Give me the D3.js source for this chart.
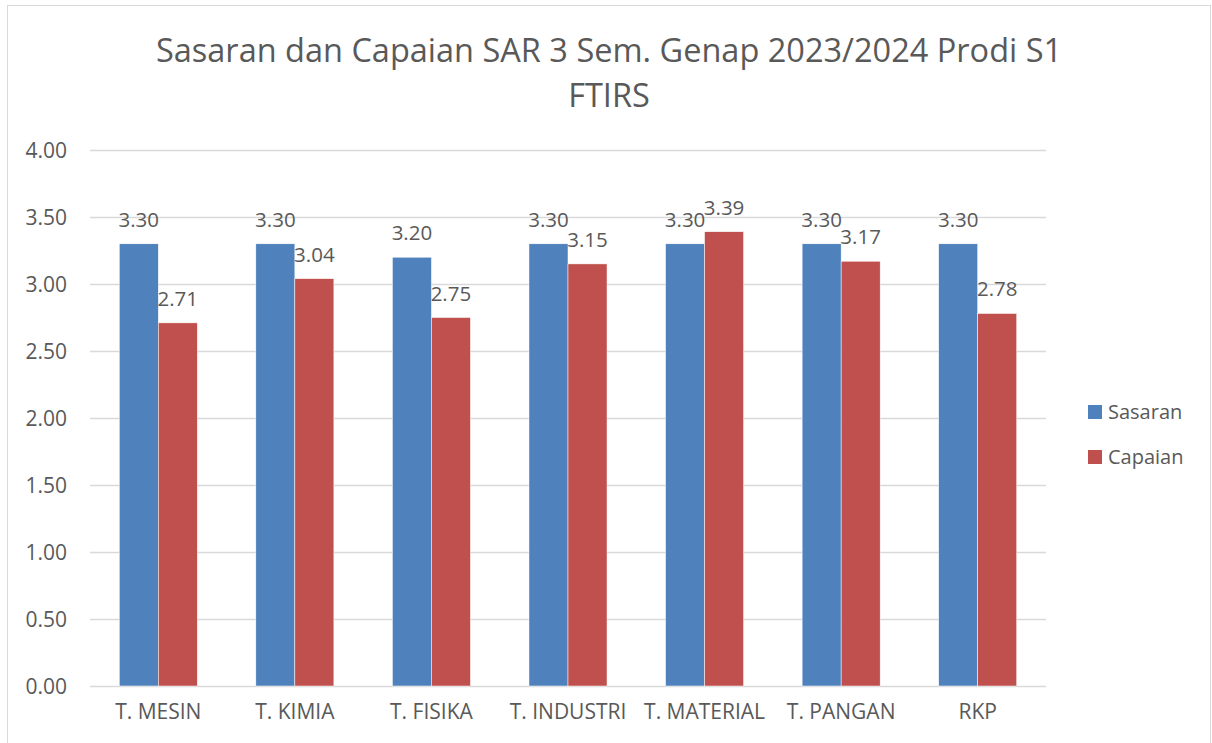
<!DOCTYPE html>
<html>
<head>
<meta charset="utf-8">
<script src="https://cdn.jsdelivr.net/npm/d3@7"></script>
<style>
  body { margin: 0; background: #fff; }
  svg text { font-family: "Open Sans", sans-serif; fill: #595959; }
</style>
</head>
<body>
<div class="chart"></div>
<script>
// chart values
let categories = ["T. MESIN", "T. KIMIA", "T. FISIKA", "T. INDUSTRI", "T. MATERIAL", "T. PANGAN", "RKP"]
let sasaran = [3.30, 3.30, 3.20, 3.30, 3.30, 3.30, 3.30]
let capaian = [2.71, 3.04, 2.75, 3.15, 3.39, 3.17, 2.78]
let seriesNames = ["Sasaran", "Capaian"]
let yTicks = [0, 0.5, 1, 1.5, 2, 2.5, 3, 3.5, 4]
let titleLines = ["Sasaran dan Capaian SAR 3 Sem. Genap 2023/2024 Prodi S1", "FTIRS"]

let w = 1212
let h = 743
let colors = { "Sasaran": "#4F81BD", "Capaian": "#C0504D" }

let svg = d3.select(".chart")
            .append("svg")
            .attr("width", w)
            .attr("height", h)

// outer chart border
svg.append("rect")
   .attr("x", 7.5).attr("y", 5.5)
   .attr("width", 1203).attr("height", 760)
   .attr("fill", "none")
   .attr("stroke", "#D9D9D9")

// title
svg.append("g").selectAll("text")
   .data(titleLines)
   .enter()
   .append("text")
   .attr("x", 609)
   .attr("y", (d, i) => 62 + i * 45)
   .attr("text-anchor", "middle")
   .style("font-size", "32.5px")
   .text(d => d)

let x = d3.scaleBand().domain(categories).range([90, 1046])
let xs = d3.scaleBand().domain(seriesNames).range([0, x.bandwidth()]).paddingOuter(0.75)
let y = d3.scaleLinear().domain([0, 4]).range([686, 150])

// gridlines
svg.append("g").selectAll("line")
   .data(yTicks)
   .enter()
   .append("line")
   .attr("x1", 90).attr("x2", 1046)
   .attr("y1", d => y(d) + 0.5).attr("y2", d => y(d) + 0.5)
   .attr("stroke", "#D9D9D9")
   .attr("stroke-width", 1.3)

// y axis labels
let yAxis = d3.axisLeft(y).tickValues(yTicks).tickFormat(d3.format(".2f")).tickSize(0).tickPadding(0)
let ya = svg.append("g").attr("transform", "translate(67,0)").call(yAxis)
ya.select(".domain").remove()
ya.selectAll("text").style("font-size", "21px").attr("font-family", null).attr("fill", null).attr("dy", "0.36em")

// x axis labels
let xAxis = d3.axisBottom(x).tickSize(0).tickPadding(0)
let xa = svg.append("g").attr("transform", "translate(0,704)").call(xAxis)
xa.select(".domain").remove()
xa.selectAll("text").style("font-size", "21px").attr("font-family", null).attr("fill", null).attr("dy", "0.71em")

// bars
let rows = categories.map((c, i) => ({ cat: c, values: [
  { name: "Sasaran", v: sasaran[i] },
  { name: "Capaian", v: capaian[i] }
] }))

let groups = svg.append("g").selectAll("g")
   .data(rows)
   .enter()
   .append("g")
   .attr("transform", d => "translate(" + x(d.cat) + ",0)")

groups.selectAll("rect")
   .data(d => d.values)
   .enter()
   .append("rect")
   .attr("x", d => xs(d.name))
   .attr("width", xs.bandwidth())
   .attr("y", d => y(d.v))
   .attr("height", d => y(0) - y(d.v))
   .attr("fill", d => colors[d.name])
   .attr("stroke", "#fff")
   .attr("stroke-width", 0.5)

// data labels
groups.selectAll("text")
   .data(d => d.values)
   .enter()
   .append("text")
   .attr("x", d => xs(d.name) + xs.bandwidth() / 2)
   .attr("y", d => y(d.v) - 17)
   .attr("text-anchor", "middle")
   .style("font-size", "20.5px")
   .text(d => d.v.toFixed(2))

// legend
let legend = svg.append("g").selectAll("g")
   .data(seriesNames)
   .enter()
   .append("g")
   .attr("transform", (d, i) => "translate(1088," + (405 + i * 45) + ")")
legend.append("rect").attr("width", 14).attr("height", 14).attr("fill", d => colors[d])
legend.append("text").attr("x", 20).attr("y", 14).style("font-size", "20px").text(d => d)
</script>
</body>
</html>
